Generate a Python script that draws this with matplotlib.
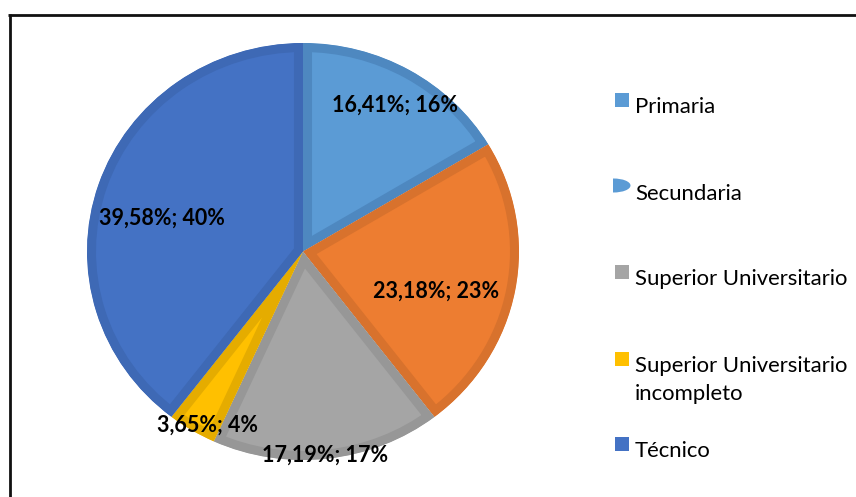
import matplotlib
matplotlib.use("Agg")
import matplotlib.pyplot as plt
from matplotlib.patches import Rectangle, Ellipse

# datos
categorias = ["Primaria", "Secundaria", "Superior Universitario",
              "Superior Universitario\nincompleto", "Técnico"]
porcentajes = [16.41, 23.18, 17.19, 3.65, 39.58]

colores = ["#5B9BD5", "#ED7D31", "#A5A5A5", "#FFC000", "#4472C4"]
bordes = ["#4E88C0", "#D8722D", "#979797", "#E5AC00", "#3E69B5"]

# posiciones de las etiquetas (coordenadas del pie) y de la leyenda (px)
pos_etiquetas = [(0.428, 0.669), (0.618, -0.223), (0.102, -1.010),
                 (-0.440, -0.866), (-0.653, 0.127)]
leyenda_y = [113, 200, 285, 372, 457]

W, H = 856, 497
fig = plt.figure(figsize=(W / 100, H / 100), dpi=100)

# pie: caja en pixeles (izq 87, der 519, arriba 43, abajo 460)
ax = fig.add_axes([87 / W, (H - 460) / H, 432 / W, 417 / H])
wedges, _ = ax.pie(porcentajes, colors=colores, startangle=90, counterclock=False,
                   radius=1.0, wedgeprops=dict(linewidth=13))
ax.set_aspect("auto")
ax.set_xlim(-1, 1)
ax.set_ylim(-1, 1)
for w, c in zip(wedges, bordes):
    w.set_edgecolor(c)
    w.set_clip_on(True)
    w.set_clip_path(w)  # borde solo hacia dentro, como en Excel

for v, (x, y) in zip(porcentajes, pos_etiquetas):
    txt = f"{v:.2f}".replace(".", ",") + f"%; {round(v)}%"
    ax.text(x, y, txt, ha="center", va="baseline", fontsize=15.5,
            fontweight="bold", family="Lato", color="black")

# capa en pixeles para leyenda y marco
ov = fig.add_axes([0, 0, 1, 1])
ov.set_xlim(0, W)
ov.set_ylim(H, 0)
ov.axis("off")
ov.patch.set_alpha(0)

for i, (cat, col, y) in enumerate(zip(categorias, colores, leyenda_y)):
    if i == 1:
        # el marcador raro de "Secundaria" (media elipse)
        m = Ellipse((613.5, y - 14.5), 34, 14, color=colores[0], lw=0)
        ov.add_patch(m)
        m.set_clip_path(Rectangle((613.5, y - 22), 20, 16, transform=ov.transData))
    else:
        ov.add_patch(Rectangle((615, y - 20), 14, 14, color=col, lw=0))
    for j, linea in enumerate(cat.split("\n")):
        ov.text(635, y + 28 * j, linea, ha="left", va="baseline", fontsize=15.9,
                family="Lato", color="black")

ov.plot([8, W], [14.5, 14.5], color="#111111", lw=2, solid_capstyle="butt")
ov.plot([10, 10], [13.5, H], color="#111111", lw=2, solid_capstyle="butt")

fig.savefig("out.png", dpi=100)
